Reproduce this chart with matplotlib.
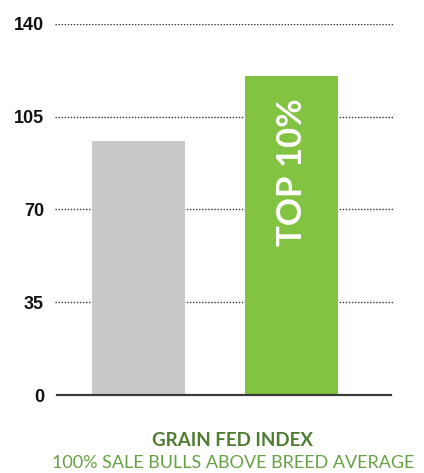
import matplotlib
matplotlib.use("Agg")
from matplotlib import pyplot as plt

# bar data
categories = ["Breed average", "Top 10%"]
values = [96, 120.5]
bar_colors = ["#c8c9cb", "#82c341"]
ticks = [0, 35, 70, 105, 140]

fig = plt.figure(figsize=(4.24, 4.73), dpi=100)
ax = fig.add_axes([55 / 424, 78 / 473, 338 / 424, (395 - 24) / 473])

x = list(range(len(categories)))
ax.bar(x, values, width=0.61, color=bar_colors, zorder=3)

ax.set_ylim(0, 140)
ax.set_xlim(-0.546, 1.663)

for t in ticks[1:]:
    ax.axhline(t, color="#333333", linestyle=(0, (1, 1.2)), linewidth=1.0, zorder=1)
ax.plot([0.006, 0.994], [0, 0], transform=ax.transAxes,
        color="#3a3a3a", linewidth=1.6, zorder=4, clip_on=False)

ax.set_yticks(ticks)
ax.set_yticklabels([str(t) for t in ticks], fontsize=13, fontweight="bold",
                   family="Liberation Sans", color="#111111")
ax.tick_params(axis="y", length=0, pad=8)
ax.set_xticks([])
for s in ax.spines.values():
    s.set_visible(False)

ax.text(x[1], 84, "TOP 10%", rotation=90, ha="center", va="center", color="white",
        fontsize=25, fontweight="bold", family="Lato", zorder=5)

fig.text(233 / 424, 1 - 440 / 473, "GRAIN FED INDEX", ha="center", va="center",
         color="#4e7d32", fontsize=13.5, fontweight="bold", family="Lato")
fig.text(233 / 424, 1 - 463 / 473, "100% SALE BULLS ABOVE BREED AVERAGE", ha="center",
         va="center", color="#66a244", fontsize=13, family="Lato")

fig.savefig("out.png", dpi=100)
